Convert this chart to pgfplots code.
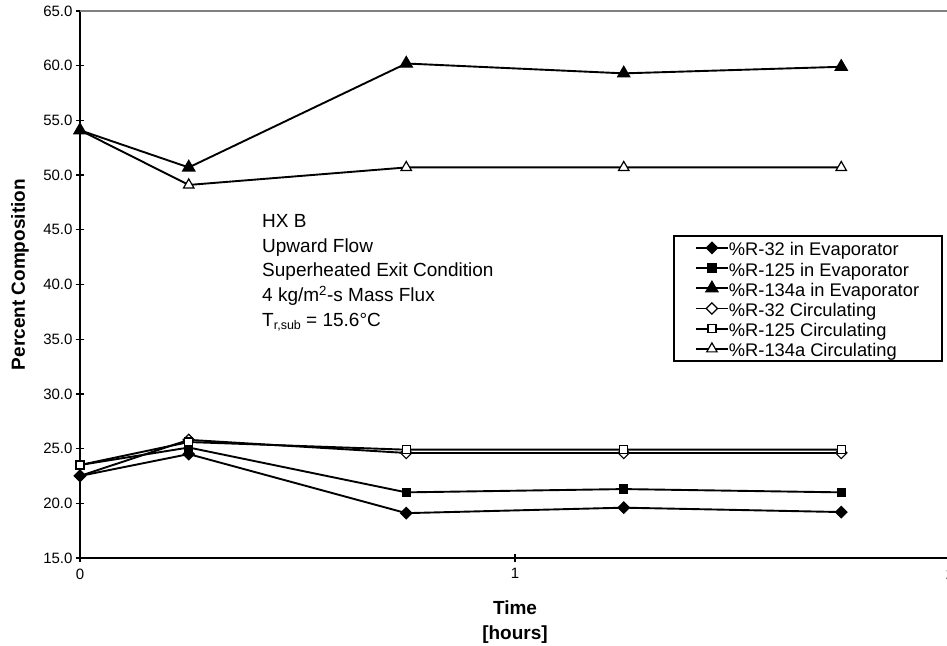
\documentclass[border=0pt]{standalone}
\usepackage{fontspec}
\setmainfont{Liberation Sans}
\usepackage{pgfplots}
\pgfplotsset{compat=1.18}
\pgfplotsset{
  sA/.style={black, line width=1.9pt, mark=square*, mark size=4pt, mark options={rotate=45, fill=black, line width=1.2pt}},
  sB/.style={black, line width=1.9pt, mark=square*, mark size=4pt, mark options={fill=black, line width=1.2pt}},
  sC/.style={black, line width=1.9pt, mark=triangle*, mark size=7pt, mark options={fill=black, line width=1.2pt}},
  sD/.style={black, line width=1.9pt, mark=square*, mark size=4pt, mark options={rotate=45, fill=white, line width=1.2pt}},
  sE/.style={black, line width=1.9pt, mark=square*, mark size=4pt, mark options={fill=white, line width=1.2pt}},
  sF/.style={black, line width=1.9pt, mark=triangle*, mark size=6pt, mark options={fill=white, line width=1.2pt}},
}
\begin{document}
\begin{tikzpicture}
\begin{axis}[
  scale only axis, width=870pt, height=547pt,
  xmin=0, xmax=2, ymin=15, ymax=65,
  axis lines=left, axis line style={-, line width=2pt, black},
  tick align=center, major tick length=8pt,
  tick style={line width=1.4pt, black},
  xtick={0,1,2}, ytick={15,20,...,65},
  /pgf/number format/assume math mode=true,
  yticklabel style={/pgf/number format/fixed, /pgf/number format/fixed zerofill,
    /pgf/number format/precision=1, font=\fontsize{15}{15}\selectfont},
  xticklabel style={font=\fontsize{15}{15}\selectfont, yshift=-3pt},
  ylabel={Percent Composition},
  ylabel style={font=\bfseries\fontsize{19}{19}\selectfont, at={(axis description cs:-0.069,0.518)}, anchor=center},
  xlabel={Time\\{}[hours]},
  xlabel style={font=\bfseries\fontsize{19}{25}\selectfont, align=center, at={(axis description cs:0.5,0)}, anchor=north, yshift=-43pt, inner sep=0pt},
  legend image code/.code={%
    \draw[overlay, mark repeat=2, mark phase=2, #1, line width=1.9pt] plot coordinates {(0pt,0pt) (16pt,0pt) (32pt,0pt)};
    \path[draw=none, fill=none] (0pt,-3pt) rectangle (32pt,3pt);},
  legend cell align=left,
  legend style={at={(0.992,0.5905)}, anchor=north east, draw=black, line width=1.8pt,
    font=\fontsize{18.3}{18.3}\selectfont, inner xsep=22pt, inner ysep=3pt, row sep=2.2pt,
    nodes={inner ysep=0pt, inner xsep=1pt, text height=17pt, text depth=1pt}},
]
\draw[line width=2pt, gray] (rel axis cs:0,1) -- (rel axis cs:1,1);
% legend (order as in the reference)
\addlegendimage{sA}\addlegendentry{\%R-32 in Evaporator}
\addlegendimage{sB}\addlegendentry{\%R-125 in Evaporator}
\addlegendimage{sC}\addlegendentry{\%R-134a in Evaporator}
\addlegendimage{sD}\addlegendentry{\%R-32 Circulating}
\addlegendimage{sE}\addlegendentry{\%R-125 Circulating}
\addlegendimage{sF}\addlegendentry{\%R-134a Circulating}
% data (drawing order chosen for overlaps)
\addplot[sD, forget plot] coordinates {
  (0,22.5) (0.25,25.8) (0.75,24.6) (1.25,24.6) (1.75,24.6)};
\addplot[sA, forget plot] coordinates {
  (0,22.5) (0.25,24.5) (0.75,19.1) (1.25,19.6) (1.75,19.2)};
\addplot[sB, forget plot] coordinates {
  (0,23.5) (0.25,25.1) (0.75,21.0) (1.25,21.3) (1.75,21.0)};
\addplot[sE, forget plot] coordinates {
  (0,23.5) (0.25,25.6) (0.75,24.9) (1.25,24.9) (1.75,24.9)};
\addplot[sF, forget plot] coordinates {
  (0,54.1) (0.25,49.1) (0.75,50.7) (1.25,50.7) (1.75,50.7)};
\addplot[sC, forget plot] coordinates {
  (0,54.1) (0.25,50.7) (0.75,60.2) (1.25,59.3) (1.75,59.9)};
\node[anchor=north west, align=left, inner sep=0pt, font=\fontsize{19}{24.8}\selectfont]
  at ([yshift=-203pt]rel axis cs:0.2092,1)
  {HX B\\Upward Flow\\Superheated Exit Condition\\4 kg/m\textsuperscript{2}-s Mass Flux\\
   T\raisebox{-0.3ex}{\fontsize{12.5}{12.5}\selectfont r,sub} = 15.6°C};
\end{axis}
\pgfresetboundingbox
\useasboundingbox (-80pt,-87pt) rectangle (867pt,558pt);
\end{tikzpicture}
\end{document}
